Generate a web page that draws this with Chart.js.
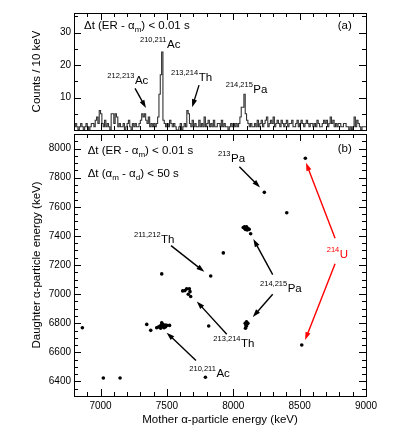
<!DOCTYPE html>
<html lang="en">
<head>
<meta charset="UTF-8" />
<title>Mother vs daughter alpha energies</title>
<script src="https://cdn.jsdelivr.net/npm/chart.js"></script>
<style>
  body { margin: 0; background: #fff; }
  #wrap { position: relative; width: 415px; height: 432px; }
  canvas { position: absolute; left: 0; }
</style>
</head>
<body>
<div id="wrap">
  <canvas id="top" width="415" height="140" style="top:0"></canvas>
  <canvas id="bottom" width="415" height="307" style="top:125px"></canvas>
</div>
<script>
// (a) mother alpha spectrum, 10 keV bins starting at 6800 keV
const binStart = 6800;
const binWidth = 10;
const counts = [
  2,1,2,1,0,1,2,1,0,1,
  2,1,0,1,2,2,1,3,4,2,
  6,5,2,1,3,1,2,1,0,5,
  5,2,5,4,1,2,1,1,2,0,
  1,2,3,1,0,2,1,2,1,1,
  2,3,5,4,5,3,2,4,1,2,
  1,2,1,2,4,11,17,24,3,2,
  1,2,1,3,2,1,2,1,0,0,
  1,2,0,1,2,1,6,5,2,1,
  3,1,2,1,1,3,1,2,1,4,
  1,2,3,1,2,1,3,1,1,2,
  2,1,3,1,2,1,1,0,1,2,
  1,2,1,2,1,2,4,7,7,11,
  5,3,2,1,2,1,1,2,1,3,
  1,2,3,1,2,3,4,1,2,3,
  2,4,1,2,3,2,1,3,2,1,
  2,3,1,2,2,3,1,1,2,3,
  1,2,3,2,1,2,3,2,1,2,
  2,1,2,1,3,2,1,1,2,3,
  2,3,1,2,4,2,3,1,2,1,
  2,2,1,1,2,2,1,1,0,1,
  0,1,4,1,3,2,1,0,1,1
];

// (b) correlated mother / daughter energies (keV)
const motherE = [
  8543, 8234, 8403, 7925, 7830, 7461,
  8075, 8085, 8095, 8100, 8110, 8120, 8090, 8105, 8131,
  7619, 7636, 7649, 7669, 7674, 7661, 7679,
  6863, 7348, 7378, 7423, 7435, 7448, 7453, 7461, 7468, 7478, 7486, 7499, 7470, 7490, 7460, 7520, 7815,
  8090, 8100, 8105, 8095, 8110, 8098, 8092,
  8516, 7021, 7147, 7790
];
const daughterE = [
  7933, 7699, 7559, 7283, 7124, 7139,
  7458, 7462, 7455, 7462, 7450, 7445, 7445, 7440, 7415,
  7022, 7024, 7036, 7036, 7017, 6999, 6984,
  6769, 6792, 6751, 6769, 6774, 6781, 6765, 6803, 6792, 6769, 6787, 6785, 6780, 6775, 6790, 6785, 6781,
  6800, 6810, 6795, 6790, 6800, 6780, 6765,
  6650, 6424, 6424, 6429
];

const topYTicks = [10, 20, 30];
const bottomXTicks = [7000, 7500, 8000, 8500, 9000];
const bottomYTicks = [6400, 6600, 6800, 7000, 7200, 7400, 7600, 7800, 8000];

const FONT = '"Liberation Sans", Arial, sans-serif';

// labels and arrows, positions in data units
const topNotes = {
  nuclides: [
    { mass: '210,211', sym: 'Ac', x: 7297, y: 25.2 },
    { mass: '212,213', sym: 'Ac', x: 7051, y: 14.2 },
    { mass: '213,214', sym: 'Th', x: 7531, y: 15.1 },
    { mass: '214,215', sym: 'Pa', x: 7943, y: 11.3 }
  ],
  arrows: [
    { x1: 7260, y1: 12.8, x2: 7342, y2: 6.8 },
    { x1: 7742, y1: 13.8, x2: 7690, y2: 7.0 }
  ],
  cond: [{ x: 6875, y: 31.1, parts: [['Δt (ER - α', 0], ['m', 1], [') < 0.01 s', 0]] }],
  tag: { text: '(a)', x: 8893, y: 31.1 }
};
const bottomNotes = {
  nuclides: [
    { mass: '213', sym: 'Pa', x: 7885, y: 7911 },
    { mass: '211,212', sym: 'Th', x: 7252, y: 7349 },
    { mass: '214,215', sym: 'Pa', x: 8202, y: 7017 },
    { mass: '213,214', sym: 'Th', x: 7850, y: 6634 },
    { mass: '210,211', sym: 'Ac', x: 7669, y: 6431 },
    { mass: '214', sym: 'U', x: 8704, y: 7247, color: '#ff0000' }
  ],
  arrows: [
    { x1: 8046, y1: 7875, x2: 8202, y2: 7733 },
    { x1: 7531, y1: 7333, x2: 7782, y2: 7153 },
    { x1: 8297, y1: 7134, x2: 8151, y2: 7378 },
    { x1: 8297, y1: 6999, x2: 8147, y2: 6842 },
    { x1: 7951, y1: 6724, x2: 7725, y2: 6950 },
    { x1: 7719, y1: 6544, x2: 7498, y2: 6735 },
    { x1: 8767, y1: 7383, x2: 8548, y2: 7902, color: '#ff0000' },
    { x1: 8767, y1: 7209, x2: 8541, y2: 6684, color: '#ff0000' }
  ],
  cond: [
    { x: 6903, y: 7960, parts: [['Δt (ER - α', 0], ['m', 1], [') < 0.01 s', 0]] },
    { x: 6903, y: 7807, parts: [['Δt (α', 0], ['m', 1], [' - α', 0], ['d', 1], [') < 50 s', 0]] }
  ],
  tag: { text: '(b)', x: 8893, y: 7976 }
};

function arrow(ctx, x1, y1, x2, y2, color) {
  const a = Math.atan2(y2 - y1, x2 - x1);
  const L = 8, W = 2.6;
  ctx.strokeStyle = color; ctx.fillStyle = color; ctx.lineWidth = 1.4;
  ctx.beginPath();
  ctx.moveTo(x1, y1);
  ctx.lineTo(x2 - L * 0.8 * Math.cos(a), y2 - L * 0.8 * Math.sin(a));
  ctx.stroke();
  ctx.beginPath();
  ctx.moveTo(x2, y2);
  ctx.lineTo(x2 - L * Math.cos(a) + W * Math.sin(a), y2 - L * Math.sin(a) - W * Math.cos(a));
  ctx.lineTo(x2 - L * Math.cos(a) - W * Math.sin(a), y2 - L * Math.sin(a) + W * Math.cos(a));
  ctx.closePath();
  ctx.fill();
}

function axisTicks(min, max, minor, major) {
  const out = [];
  for (let v = Math.ceil(min / minor) * minor; v <= max + 1e-9; v += minor) {
    out.push({ v, major: Math.abs(v / major - Math.round(v / major)) < 1e-9 });
  }
  return out;
}

const framePlugin = {
  id: 'frame',
  afterDatasetsDraw(chart, args, opts) {
    const { ctx, chartArea: a, scales } = chart;
    const sx = scales.x, sy = scales.y;
    ctx.save();
    ctx.strokeStyle = '#000';
    ctx.lineWidth = 1;
    ctx.strokeRect(a.left + 0.5, a.top + 0.5, a.right - a.left, a.bottom - a.top);
    ctx.beginPath();
    axisTicks(sx.min, sx.max, opts.xMinor, opts.xMajor).forEach(t => {
      const p = Math.round(sx.getPixelForValue(t.v)) + 0.5;
      const l = t.major ? 7 : 4;
      ctx.moveTo(p, a.bottom); ctx.lineTo(p, a.bottom - l);
      ctx.moveTo(p, a.top); ctx.lineTo(p, a.top + l);
    });
    axisTicks(sy.min, sy.max, opts.yMinor, opts.yMajor).forEach(t => {
      const p = Math.round(sy.getPixelForValue(t.v)) + 0.5;
      const l = t.major ? 7 : 4;
      ctx.moveTo(a.left, p); ctx.lineTo(a.left + l, p);
      ctx.moveTo(a.right, p); ctx.lineTo(a.right - l, p);
    });
    ctx.stroke();

    const n = opts.notes;
    const px = v => sx.getPixelForValue(v), py = v => sy.getPixelForValue(v);
    ctx.textBaseline = 'alphabetic';
    n.arrows.forEach(r => arrow(ctx, px(r.x1), py(r.y1), px(r.x2), py(r.y2), r.color || '#000'));
    n.nuclides.forEach(d => {
      const c = d.color || '#000';
      ctx.fillStyle = c;
      ctx.textAlign = 'left';
      ctx.font = '7.5px ' + FONT;
      ctx.fillText(d.mass, px(d.x), py(d.y) - 6);
      const w = ctx.measureText(d.mass).width;
      ctx.font = '11.5px ' + FONT;
      ctx.fillText(d.sym, px(d.x) + w + 0.5, py(d.y));
    });
    ctx.fillStyle = '#000';
    n.cond.forEach(c => {
      let x = px(c.x);
      const y = py(c.y);
      c.parts.forEach(([t, sub]) => {
        ctx.font = (sub ? '8px ' : '11.5px ') + FONT;
        ctx.fillText(t, x, y + (sub ? 3 : 0));
        x += ctx.measureText(t).width;
      });
    });
    ctx.font = '11.5px ' + FONT;
    ctx.textAlign = 'right';
    ctx.fillText(n.tag.text, px(n.tag.x), py(n.tag.y));
    ctx.restore();
  }
};

const tickFont = { family: FONT, size: 10 };
const titleFont = { family: FONT, size: 11.5 };
const plainNumber = v => String(v);

// histogram outline: one point per bin edge, stepped after
const histPoints = counts.map((c, i) => ({ x: binStart + i * binWidth, y: c }));
histPoints.push({ x: binStart + counts.length * binWidth, y: counts[counts.length - 1] });

new Chart(document.getElementById('top'), {
  type: 'line',
  data: {
    datasets: [{
      data: histPoints,
      stepped: 'after',
      borderColor: '#333',
      borderWidth: 1.1,
      pointRadius: 0,
      fill: false
    }]
  },
  plugins: [framePlugin],
  options: {
    responsive: false,
    animation: false,
    layout: { padding: { top: 13, right: 49, bottom: 10, left: 0 } },
    plugins: {
      legend: { display: false },
      tooltip: { enabled: false },
      frame: { xMinor: 100, xMajor: 500, yMinor: 5, yMajor: 10, notes: topNotes }
    },
    scales: {
      x: { type: 'linear', min: 6800, max: 9000, display: false },
      y: {
        min: 0, max: 36,
        afterFit: s => { s.width = 74; },
        afterBuildTicks: s => { s.ticks = topYTicks.map(v => ({ value: v })); },
        grid: { display: false, drawTicks: false },
        border: { display: false },
        ticks: { padding: 3, font: tickFont, color: '#000', callback: plainNumber },
        title: { display: true, text: 'Counts / 10 keV', font: titleFont, color: '#000', padding: { top: 30, bottom: 0 } }
      }
    }
  }
});

new Chart(document.getElementById('bottom'), {
  type: 'scatter',
  data: {
    datasets: [{
      data: motherE.map((m, i) => ({ x: m, y: daughterE[i] })),
      backgroundColor: '#000',
      borderColor: '#000',
      pointRadius: 1.8,
      borderWidth: 0
    }]
  },
  plugins: [framePlugin],
  options: {
    responsive: false,
    animation: false,
    layout: { padding: { top: 5, right: 49, bottom: 0, left: 0 } },
    plugins: {
      legend: { display: false },
      tooltip: { enabled: false },
      frame: { xMinor: 100, xMajor: 500, yMinor: 50, yMajor: 200, notes: bottomNotes }
    },
    scales: {
      x: {
        type: 'linear', min: 6800, max: 9000,
        afterFit: s => { s.height = 36; },
        afterBuildTicks: s => { s.ticks = bottomXTicks.map(v => ({ value: v })); },
        grid: { display: false, drawTicks: false },
        border: { display: false },
        ticks: { padding: 4, font: tickFont, color: '#000', maxRotation: 0, autoSkip: false, callback: plainNumber },
        title: { display: true, text: 'Mother α-particle energy (keV)', font: titleFont, color: '#000', padding: { top: 0, bottom: 5 } }
      },
      y: {
        min: 6300, max: 8100,
        afterFit: s => { s.width = 74; },
        afterBuildTicks: s => { s.ticks = bottomYTicks.map(v => ({ value: v })); },
        grid: { display: false, drawTicks: false },
        border: { display: false },
        ticks: { padding: 3, font: tickFont, color: '#000', autoSkip: false, callback: plainNumber },
        title: { display: true, text: 'Daughter α-particle energy (keV)', font: titleFont, color: '#000', padding: { top: 30, bottom: 0 } }
      }
    }
  }
});
</script>
</body>
</html>
